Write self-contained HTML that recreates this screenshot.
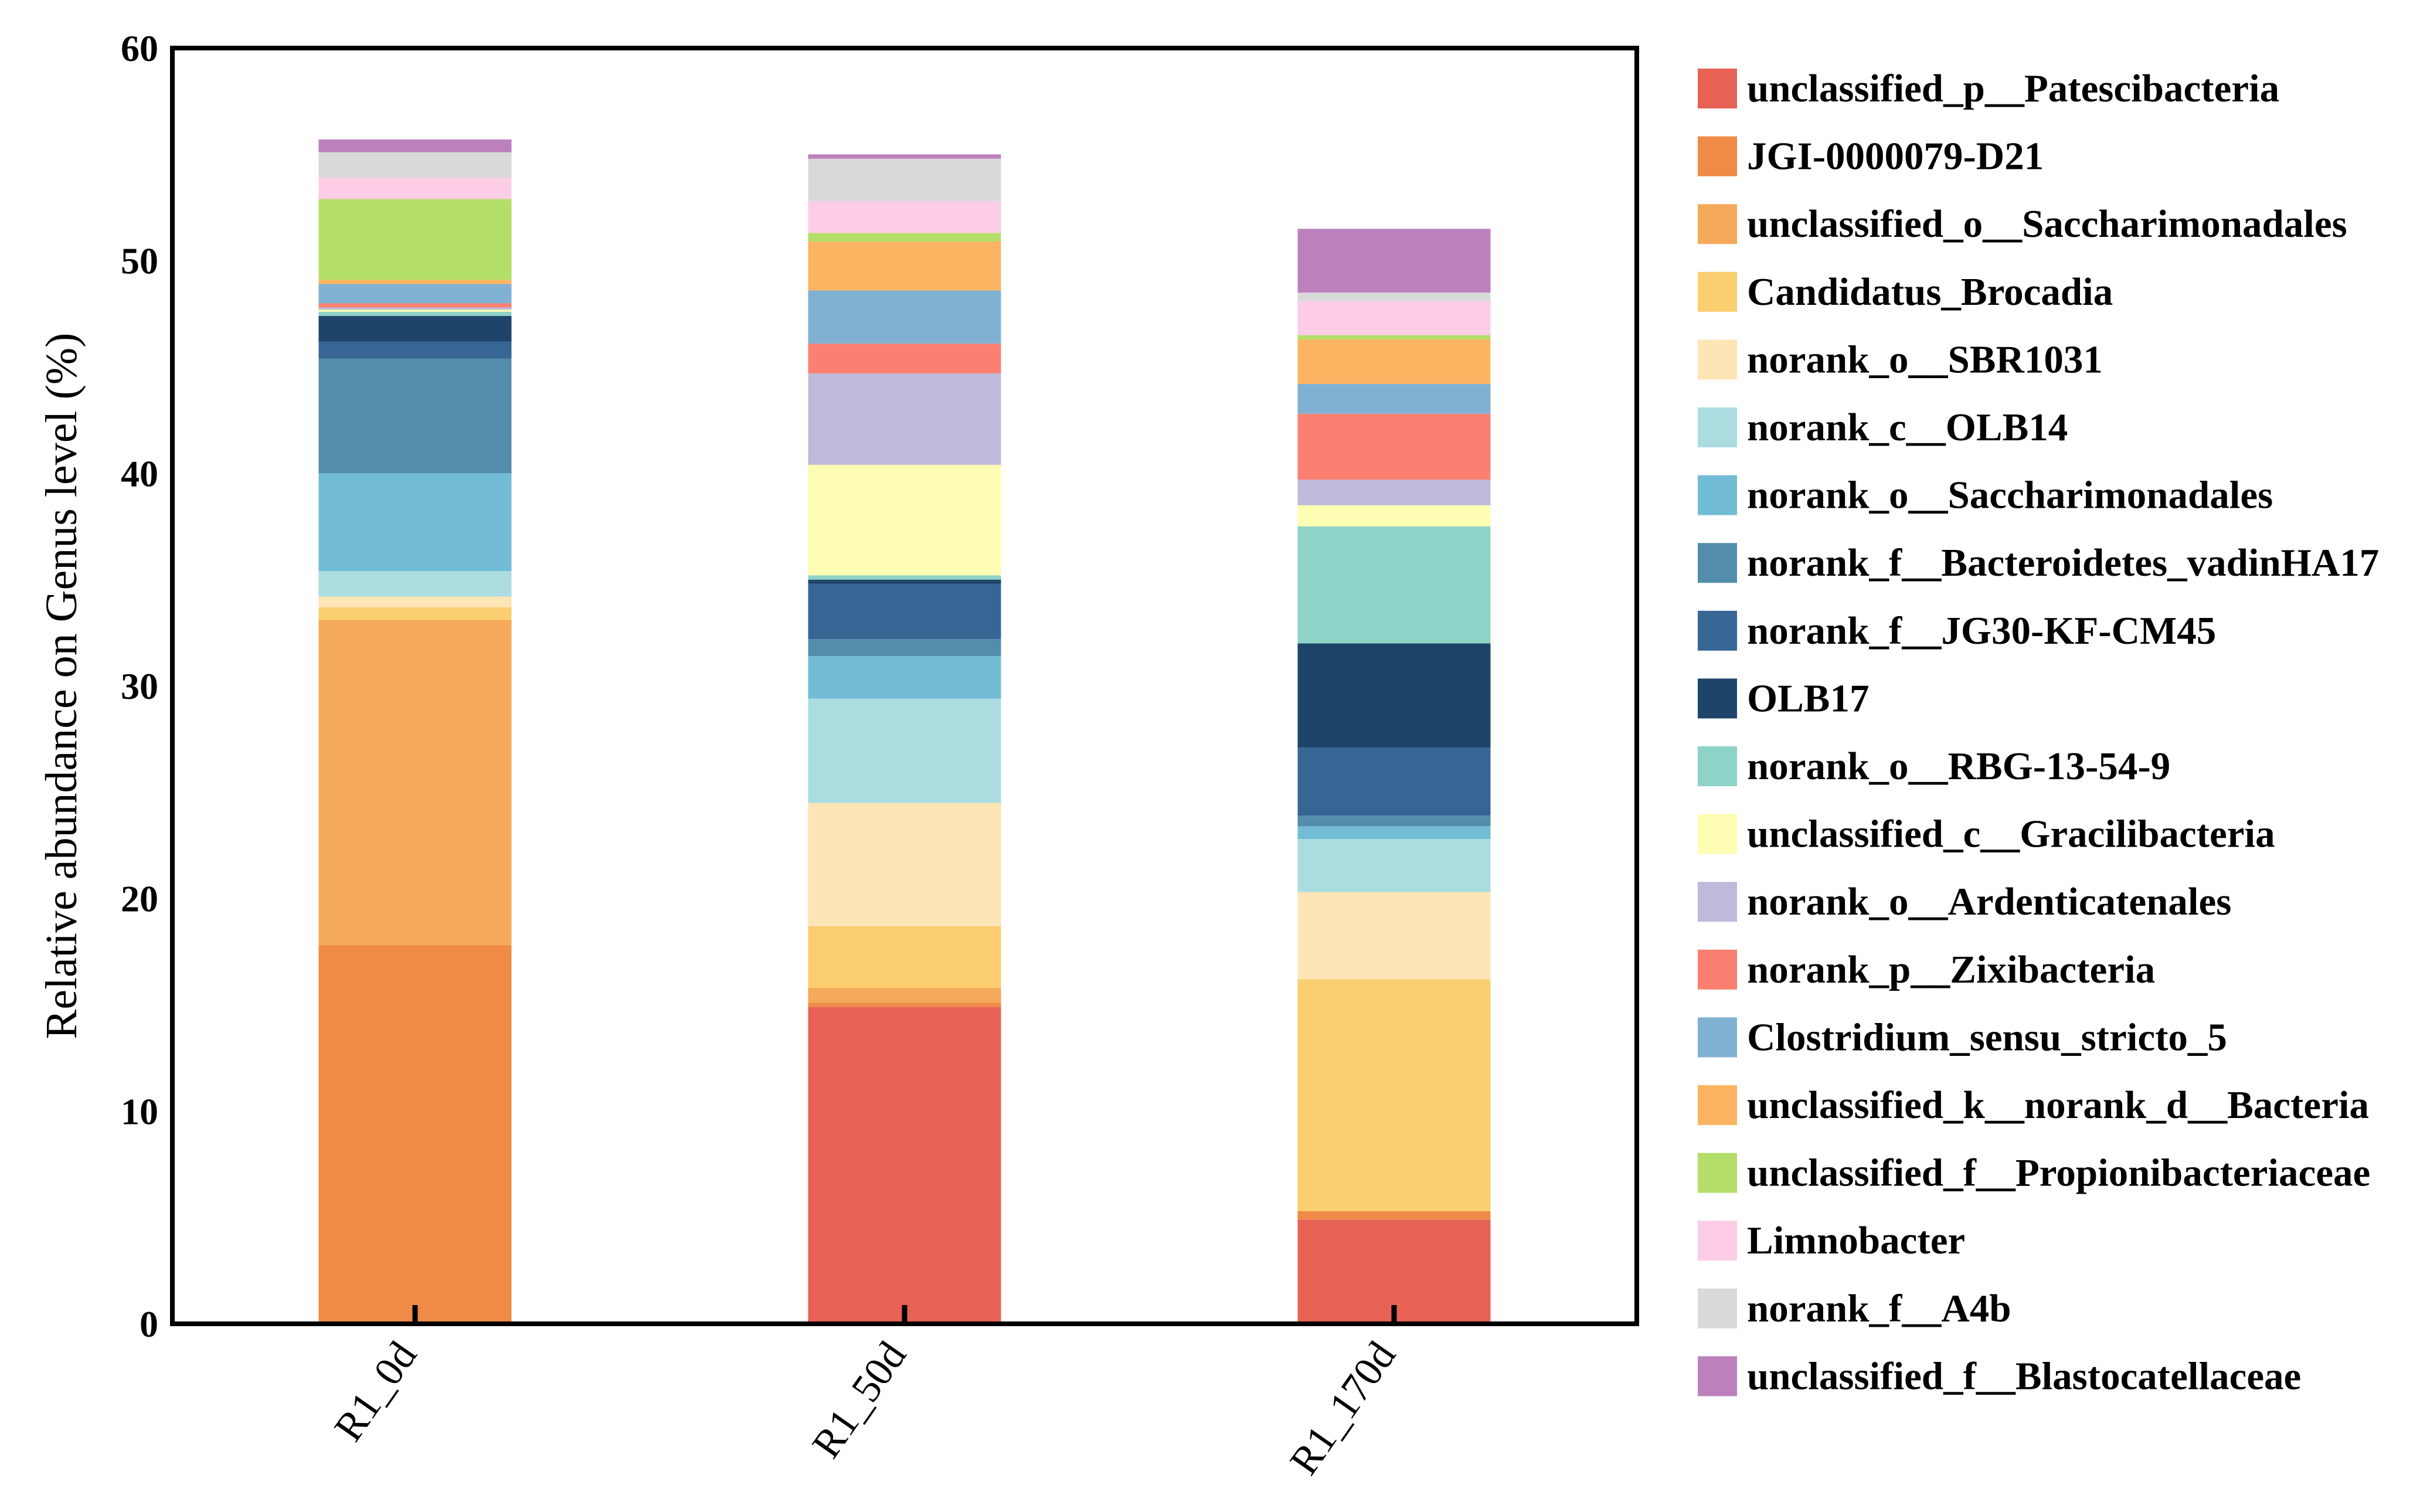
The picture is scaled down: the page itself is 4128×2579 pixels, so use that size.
<!DOCTYPE html>
<html><head><meta charset="utf-8"><style>
html,body{margin:0;padding:0;background:#fff}
svg{display:block}
text{font-family:"Liberation Serif",serif;fill:#000}
</style></head><body>
<svg id="chart" width="4128" height="2579" viewBox="0 0 4128 2579" xmlns="http://www.w3.org/2000/svg">
<g id="bars"></g>
<g id="axes"></g>
<g id="legend"></g>
<text x="0" y="0" font-size="76" text-anchor="middle" transform="translate(130,1170) rotate(-90)">Relative abundance on Genus level (%)</text>
</svg>
<script>
const categories = ["R1_0d","R1_50d","R1_170d"];
const genera = ["unclassified_p__Patescibacteria","JGI-0000079-D21","unclassified_o__Saccharimonadales","Candidatus_Brocadia","norank_o__SBR1031","norank_c__OLB14","norank_o__Saccharimonadales","norank_f__Bacteroidetes_vadinHA17","norank_f__JG30-KF-CM45","OLB17","norank_o__RBG-13-54-9","unclassified_c__Gracilibacteria","norank_o__Ardenticatenales","norank_p__Zixibacteria","Clostridium_sensu_stricto_5","unclassified_k__norank_d__Bacteria","unclassified_f__Propionibacteriaceae","Limnobacter","norank_f__A4b","unclassified_f__Blastocatellaceae"];
const colors = ["#E76154","#EF8B47","#F5A95A","#FBCE6F","#FDE5B5","#ABDDE0","#72BCD5","#528EAB","#376695","#1F446A","#8ED3C7","#FDFDB3","#BEBADA","#FB8072","#80B1D3","#FDB462","#B3DE69","#FCCDE5","#D9D9D9","#BC80BD"];
const valuesR1_0d   = [0,17.8,15.3,0.6,0.5,1.2,4.6,5.4,0.8,1.2,0.2,0.1,0.1,0.2,0.9,0.2,3.8,1.0,1.2,0.6];
const valuesR1_50d  = [14.9,0.2,0.7,2.9,5.8,4.9,2.0,0.8,2.6,0.2,0.2,5.2,4.3,1.4,2.5,2.3,0.4,1.5,2.0,0.2];
const valuesR1_170d = [4.9,0.4,0.0,10.9,4.1,2.5,0.6,0.5,3.2,4.9,5.5,1.0,1.2,3.1,1.4,2.1,0.2,1.6,0.4,3.0];
const seriesValues = [valuesR1_0d, valuesR1_50d, valuesR1_170d];
const yTicks = [0,10,20,30,40,50,60];

const NS="http://www.w3.org/2000/svg";
const L=294,R=2792,T=82,B=2258,yMax=60;
const y = v => B - v/yMax*(B-T);
const barW=329;
const xc = i => L + 414 + i*835;
function mk(tag,attrs,parent){const e=document.createElementNS(NS,tag);for(const k in attrs)e.setAttribute(k,attrs[k]);parent.appendChild(e);return e;}
const gb=document.getElementById('bars'), ga=document.getElementById('axes'), gl=document.getElementById('legend');
categories.forEach((c,i)=>{
  let acc=0;
  const cx=xc(i);
  seriesValues[i].forEach((v,j)=>{
    if(v<=0){return;}
    const r=mk('rect',{x:cx-barW/2,y:y(acc+v),width:barW,height:y(acc)-y(acc+v),fill:colors[j]},gb);
    
    
    acc+=v;
  });
  const t=mk('line',{x1:cx,x2:cx,y1:B,y2:B-32,stroke:'#000','stroke-width':9},ga);
  
  
  const lb=mk('text',{x:0,y:0,'font-size':70,'text-anchor':'end',transform:`translate(${cx+5},${B+52}) rotate(-55)`},ga);
  lb.textContent=c;
  
  
});
const fr=mk('rect',{x:L,y:T,width:R-L,height:B-T,fill:'none',stroke:'#000','stroke-width':8},ga);


yTicks.forEach(v=>{
  const tl=mk('text',{x:L-24,y:y(v)+22,'font-size':64,'font-weight':'bold','text-anchor':'end'},ga);
  tl.textContent=v;
  
  
});
genera.forEach((g,j)=>{
  const cy=151+j*115.6;
  const s=mk('rect',{x:2896,y:cy-34,width:67,height:68,fill:colors[j]},gl);
  
  
  const t=mk('text',{x:2980,y:cy+22,'font-size':67,'font-weight':'bold'},gl);
  t.textContent=g;
  
  
});
</script>
</body></html>
